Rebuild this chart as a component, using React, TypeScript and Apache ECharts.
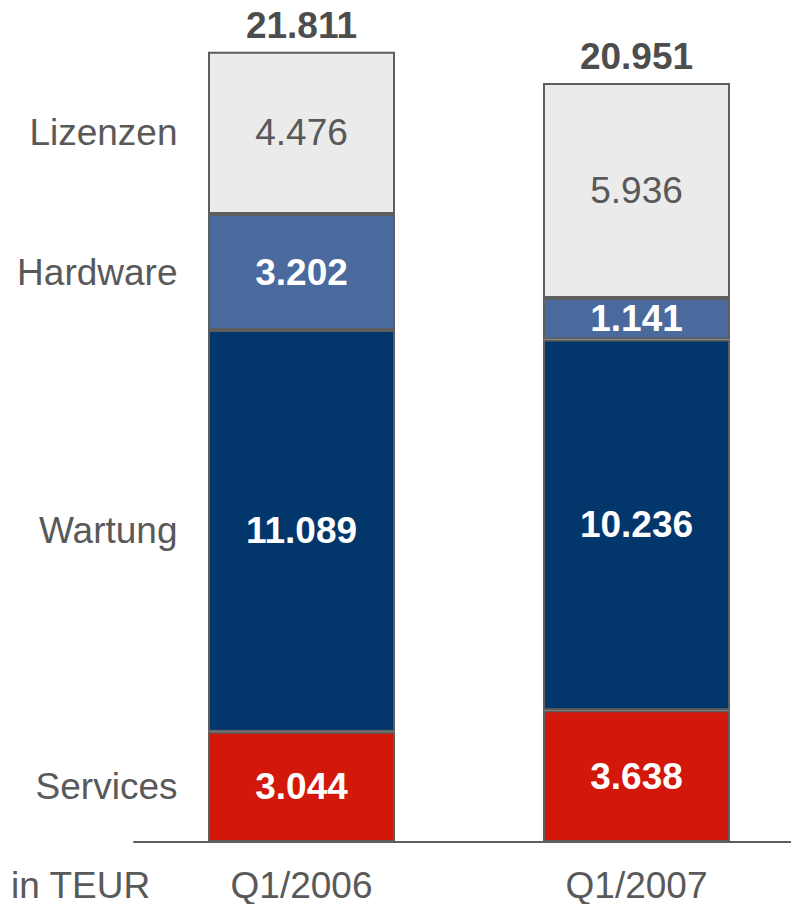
import React, { useEffect, useRef } from "react";
import * as echarts from "echarts";

const categories = ["Q1/2006", "Q1/2007"];
const seriesNames = ["Services", "Wartung", "Hardware", "Lizenzen"];
const services = [3044, 3638];
const wartung = [11089, 10236];
const hardware = [3202, 1141];
const lizenzen = [4476, 5936];
const totals = [21811, 20951];
const unitLabel = "in TEUR";

const colors = ["#D2180B", "#03376B", "#4A6A9D", "#EBEBEB"];
const FONT = "'Liberation Sans', Arial, sans-serif";
const FS = 37;

function fmt(v: number): string {
  const s = Math.round(v).toString();
  return s.replace(/\B(?=(\d{3})+(?!\d))/g, ".");
}

export default function App() {
  const ref = useRef<HTMLDivElement>(null);
  useEffect(() => {
    if (!ref.current) return;
    const chart = echarts.init(ref.current, null, { renderer: "svg" });
    const seriesData = [services, wartung, hardware, lizenzen];

    const mids: any[] = [];
    let acc = 0;
    seriesData.forEach((arr, i) => {
      mids.push([0, acc + arr[0] / 2, seriesNames[i]]);
      acc += arr[0];
    });

    const barSeries = seriesData.map((arr, i) => ({
      type: "bar",
      name: seriesNames[i],
      stack: "total",
      data: arr,
      barWidth: 187,
      itemStyle: { color: colors[i], borderColor: "#5E5E5E", borderWidth: 2 },
      label: {
        show: true,
        position: "inside",
        formatter: (p: any) => fmt(p.value),
        fontFamily: FONT,
        fontSize: FS,
        fontWeight: i === 3 ? "normal" : "bold",
        color: i === 3 ? "#595959" : "#FFFFFF",
      },
    }));

    const option: any = {
      animation: false,
      grid: {
        left: 134,
        width: 670,
        top: 45,
        height: 797,
        containLabel: false,
        outerBoundsMode: "none",
      },
      xAxis: {
        type: "category",
        data: categories,
        axisLine: { show: true, lineStyle: { color: "#5E5E5E", width: 2 } },
        axisTick: { show: false },
        axisLabel: {
          fontFamily: FONT,
          fontSize: FS,
          lineHeight: 30,
          color: "#595959",
          margin: 28,
        },
      },
      yAxis: {
        type: "value",
        min: 0,
        max: 22000,
        show: false,
        splitLine: { show: false },
      },
      series: [
        ...barSeries,
        {
          type: "bar",
          name: "total",
          stack: "total",
          data: [0, 0],
          barWidth: 187,
          itemStyle: { color: "transparent", borderWidth: 0 },
          label: {
            show: true,
            position: "top",
            distance: 8,
            formatter: (p: any) => fmt(totals[p.dataIndex]),
            fontFamily: FONT,
            fontSize: FS,
            fontWeight: "bold",
            color: "#4D4D4D",
          },
        },
        {
          type: "custom",
          name: "names",
          data: mids,
          renderItem: (params: any, api: any) => {
            const c = api.coord([api.value(0), api.value(1)]);
            return {
              type: "text",
              x: c[0] - 124,
              y: c[1],
              style: {
                text: mids[params.dataIndex][2],
                fontFamily: FONT,
                fontSize: FS,
                fill: "#595959",
                align: "right",
                verticalAlign: "middle",
              },
            };
          },
        },
      ],
      graphic: [
        {
          type: "text",
          x: 11,
          y: 885,
          style: {
            text: unitLabel,
            fontFamily: FONT,
            fontSize: FS,
            lineHeight: 30,
            fill: "#595959",
            align: "left",
            verticalAlign: "middle",
          },
        },
      ],
    };
    chart.setOption(option);
    return () => chart.dispose();
  }, []);
  return <div ref={ref} style={{ width: 791, height: 904, position: "absolute", left: 0, top: 0 }} />;
}
